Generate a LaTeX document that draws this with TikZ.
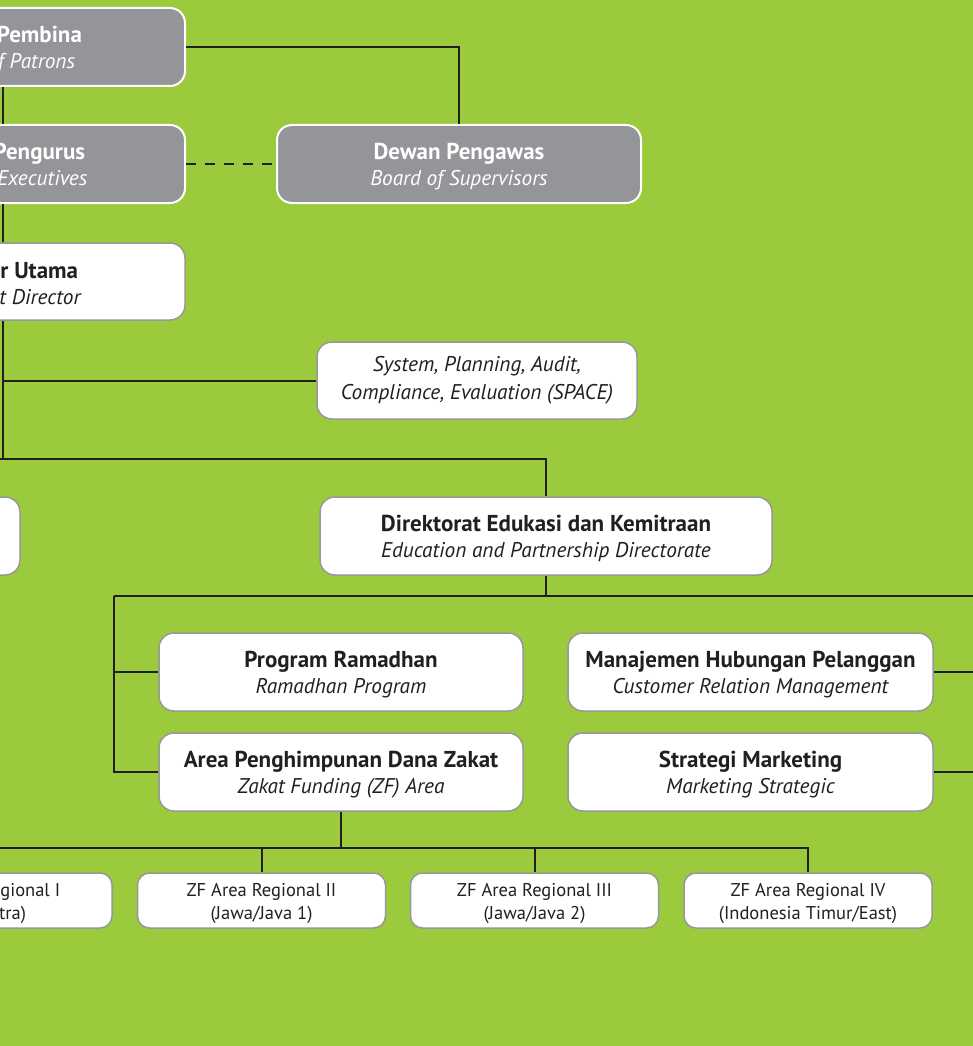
\documentclass[tikz,border=0pt]{standalone}
\usepackage{fontspec}
\setmainfont{PT Sans}
\definecolor{bggreen}{RGB}{155,203,60}
\definecolor{boxgray}{RGB}{147,149,152}
\definecolor{ink}{RGB}{35,31,32}
\definecolor{rim}{RGB}{150,152,155}
\newcommand{\ttl}[1]{{\fontsize{23}{26}\selectfont\bfseries\rule{0pt}{21pt}#1}}
\newcommand{\sub}[1]{{\fontsize{21.3}{26}\selectfont\itshape #1}}
\newcommand{\rgl}[2]{\rule{0pt}{20pt}#1\\#2}
\tikzset{
  conn/.style={draw=ink, line width=2pt},
  graybox/.style={rectangle, rounded corners=15pt, fill=boxgray, draw=white, line width=2pt,
    minimum width=364pt, minimum height=78pt, inner sep=0pt, align=center, text=white,
    font=\fontsize{21}{26}\selectfont},
  whitebox/.style={rectangle, rounded corners=15pt, fill=white, draw=rim, line width=1.5pt,
    minimum width=364pt, minimum height=78pt, inner sep=0pt, align=center, text=ink,
    font=\fontsize{21}{26}\selectfont},
  regbox/.style={rectangle, rounded corners=12pt, fill=white, draw=rim, line width=1.5pt,
    minimum width=248pt, minimum height=55pt, inner sep=0pt, align=center, text=ink,
    font=\fontsize{18.5}{23}\selectfont},
}
\begin{document}
\begin{tikzpicture}[x=1pt,y=-1pt]
\clip (0,0) rectangle (973,1046);
\fill[bggreen] (0,0) rectangle (973,1046);
% nodes
\node[graybox] (pembina) at (3,47) {\ttl{Dewan Pembina}\\\sub{Board of Patrons}};
\node[graybox] (pengurus) at (3,164) {\ttl{Dewan Pengurus}\\\sub{Board of Executives}};
\node[graybox] (pengawas) at (459,164) {\ttl{Dewan Pengawas}\\\sub{Board of Supervisors}};
\node[whitebox, minimum height=77pt] (dirut) at (3,281.5) {\ttl{Direktur Utama}\\\sub{President Director}};
\node[whitebox, minimum width=320pt, minimum height=77pt, font=\fontsize{21.3}{28.5}\selectfont\itshape] (space) at (477,380.5) {System, Planning, Audit,\\Compliance, Evaluation (SPACE)};
\node[whitebox, minimum width=452pt] (leftdir) at (-206,536) {};
\node[whitebox, minimum width=452pt] (edukasi) at (546,536) {\ttl{Direktorat Edukasi dan Kemitraan}\\\sub{Education and Partnership Directorate}};
\node[whitebox] (ramadhan) at (341,672) {\ttl{Program Ramadhan}\\\sub{Ramadhan Program}};
\node[whitebox] (area) at (341,772) {\ttl{Area Penghimpunan Dana Zakat}\\\sub{Zakat Funding (ZF) Area}};
\node[whitebox, minimum width=365pt] (crm) at (750.5,672) {\ttl{Manajemen Hubungan Pelanggan}\\\sub{Customer Relation Management}};
\node[whitebox, minimum width=365pt] (strategi) at (750.5,772) {\ttl{Strategi Marketing}\\\sub{Marketing Strategic}};
\node[regbox] (reg1) at (-12,900.5) {\rgl{ZF Area Regional I}{(Sumatra)}};
\node[regbox] (reg2) at (261.5,900.5) {\rgl{ZF Area Regional II}{(Jawa/Java 1)}};
\node[regbox] (reg3) at (534.5,900.5) {\rgl{ZF Area Regional III}{(Jawa/Java 2)}};
\node[regbox] (reg4) at (808,900.5) {\rgl{ZF Area Regional IV}{(Indonesia Timur/East)}};
% coordinates
\coordinate (busA) at (3,459);
\coordinate (busB) at (114,596);
\coordinate (busR) at (1000,596);
\coordinate (busC) at (341,848);
% connectors
\draw[conn] (pembina.east) -| (pengawas.north);
\draw[conn] (pembina.south) -- (pengurus.north);
\draw[conn, dash pattern=on 10pt off 9pt] (pengurus.east) -- (pengawas.west);
\draw[conn] (pengurus.south) -- (dirut.north);
\draw[conn] (dirut.south) -- (busA);
\draw[conn] (dirut.south |- space.west) -- (space.west);
\draw[conn] (leftdir.north) |- (busA) -| (edukasi.north);
\draw[conn] (edukasi.south) -- (edukasi.south |- busB);
\draw[conn] (busB) -- (busR);
\draw[conn] (busB) |- (area.west);
\draw[conn] (busB |- ramadhan.west) -- (ramadhan.west);
\draw[conn] (busR) |- (strategi.east);
\draw[conn] (crm.east) -- (crm.east -| busR);
\draw[conn] (area.south) -- (busC);
\draw[conn] (reg1.north) |- (busC) -| (reg4.north);
\draw[conn] (reg2.north) -- (reg2.north |- busC);
\draw[conn] (reg3.north) -- (reg3.north |- busC);
\end{tikzpicture}
\end{document}
